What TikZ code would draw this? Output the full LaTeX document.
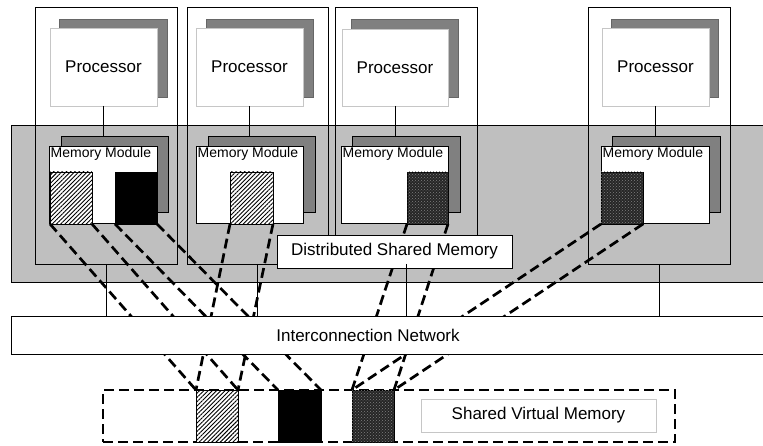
\documentclass[tikz,border=0pt]{standalone}
\usepackage{fontspec}
\setmainfont{Liberation Sans}
\usetikzlibrary{positioning}
\usetikzlibrary{patterns}
\usetikzlibrary{patterns.meta}
\tikzset{
    sz/.style 2 args = {minimum width=#1pt, minimum height=#2pt},
    boxn/.style = {rectangle, draw=black, line width=0.8pt, anchor=north west, inner sep=0pt, outer sep=0pt},
    nodebox/.style = {boxn},
    procbox/.style = {boxn, draw=gray!45, fill=white, font=\fontsize{17}{20}\selectfont},
    procshade/.style = {boxn, draw=gray!80!black, fill=gray},
    memshade/.style = {boxn, fill=gray},
    membox/.style = {boxn, fill=white, label={[mmtext]north west:Memory Module}},
    mmtext/.style = {anchor=north west, inner sep=1.5pt, font=\fontsize{14}{16}\selectfont},
    blockh/.style = {boxn, fill=white, postaction={pattern={Lines[angle=45, distance=3pt, line width=0.9pt]}, pattern color=black}},
    blockb/.style = {boxn, fill=black},
    blockd/.style = {boxn, fill=black!85, postaction={pattern=crosshatch dots, pattern color=gray}},
    textbox/.style = {boxn, fill=white, font=\fontsize{17}{20}\selectfont},
    edgen/.style = {-, line width=0.8pt, black},
    edgedash/.style = {-, line width=2.7pt, black, dash pattern=on 10pt off 5pt}
}

\begin{document}
\begin{tikzpicture}[x=1pt, y=-1pt]
  \useasboundingbox (0,0) rectangle (763,446);
  \clip (0,0) rectangle (763,446);

  % shared memory band
  \node[boxn, fill=gray!50, sz={770}{157}] (band) at (11,125) {};

  % processing nodes
  \node[nodebox, sz={142}{257}] (n1) at (35,7) {};
  \node[nodebox, sz={141}{257}] (n2) at (187,7) {};
  \node[nodebox, sz={142}{257}] (n3) at (335,7) {};
  \node[nodebox, sz={142}{257}] (n4) at (588,7) {};

  \node[procshade, sz={108}{78}] (ps1) at (59,19) {};
  \node[procshade, sz={107}{78}] (ps2) at (206,19) {};
  \node[procshade, sz={107}{78}] (ps3) at (351,19) {};
  \node[procshade, sz={107}{78}] (ps4) at (611,19) {};
  \node[procbox, sz={107}{78}] (p1) at (50,28) {Processor};
  \node[procbox, sz={107}{78}] (p2) at (196,28) {Processor};
  \node[procbox, sz={106}{77}] (p3) at (342,29) {Processor};
  \node[procbox, sz={107}{78}] (p4) at (602,28) {Processor};

  \node[memshade, sz={107}{76}] (ms1) at (61,136) {};
  \node[memshade, sz={107}{76}] (ms2) at (208,136) {};
  \node[memshade, sz={108}{76}] (ms3) at (352,136) {};
  \node[memshade, sz={108}{76}] (ms4) at (612,136) {};
  \node[membox, sz={108}{77}] (m1) at (49,146) {};
  \node[membox, sz={107}{77}] (m2) at (196,146) {};
  \node[membox, sz={107}{77}] (m3) at (341,146) {};
  \node[membox, sz={108}{77}] (m4) at (601,146) {};

  \draw[edgen] (p1.south) -- (p1.south |- ms1.north);
  \draw[edgen] (p2.south) -- (p2.south |- ms2.north);
  \draw[edgen] (p3.south) -- (p3.south |- ms3.north);
  \draw[edgen] (p4.south) -- (p4.south |- ms4.north);

  % pages in the memory modules
  \node[blockh, sz={42}{52}] (a1) at (50,172) {};
  \node[blockb, sz={42}{52}] (b1) at (115,172) {};
  \node[blockh, sz={43}{52}] (a2) at (230,172) {};
  \node[blockd, sz={41}{52}] (c3) at (407,172) {};
  \node[blockd, sz={42}{52}] (c4) at (601,172) {};

  % shared virtual memory
  \node[boxn, dash pattern=on 10pt off 5pt, line width=2.7pt, sz={572}{52}] (svm) at (103,390) {};
  \node[blockh, sz={42}{52}] (va) at (196,390) {};
  \node[blockb, sz={43}{52}] (vb) at (278,390) {};
  \node[blockd, sz={42}{52}] (vc) at (352,390) {};
  \node[textbox, draw=gray!45, sz={235}{33}] (svmtext) at (421,399) {Shared Virtual Memory};

  % mappings
  \draw[edgedash] (a1.south west) -- (va.north west);
  \draw[edgedash] (a1.south east) -- (va.north east);
  \draw[edgedash] (b1.south west) -- (vb.north west);
  \draw[edgedash] (b1.south east) -- (vb.north east);
  \draw[edgedash] (a2.south west) -- (va.north west);
  \draw[edgedash] (a2.south east) -- (va.north east);
  \draw[edgedash] (c3.south west) -- (vc.north west);
  \draw[edgedash] (c3.south east) -- (vc.north east);
  \draw[edgedash] (c4.south west) -- (vc.north west);
  \draw[edgedash] (c4.south east) -- (vc.north east);

  \node[textbox, sz={235}{33}] (dsm) at (277,235) {Distributed Shared Memory};

  % interconnection network
  \node[boxn, fill=white, sz={770}{38}] (net) at (11,316) {};
  \node[font=\fontsize{17}{20}\selectfont] (nettext) at (368,335) {Interconnection Network};

  \draw[edgen] (n1.south) -- (n1.south |- net.north);
  \draw[edgen] (n2.south) -- (n2.south |- net.north);
  \draw[edgen] (n3.south) -- (n3.south |- net.north);
  \draw[edgen] (n4.south) -- (n4.south |- net.north);

\end{tikzpicture}
\end{document}
